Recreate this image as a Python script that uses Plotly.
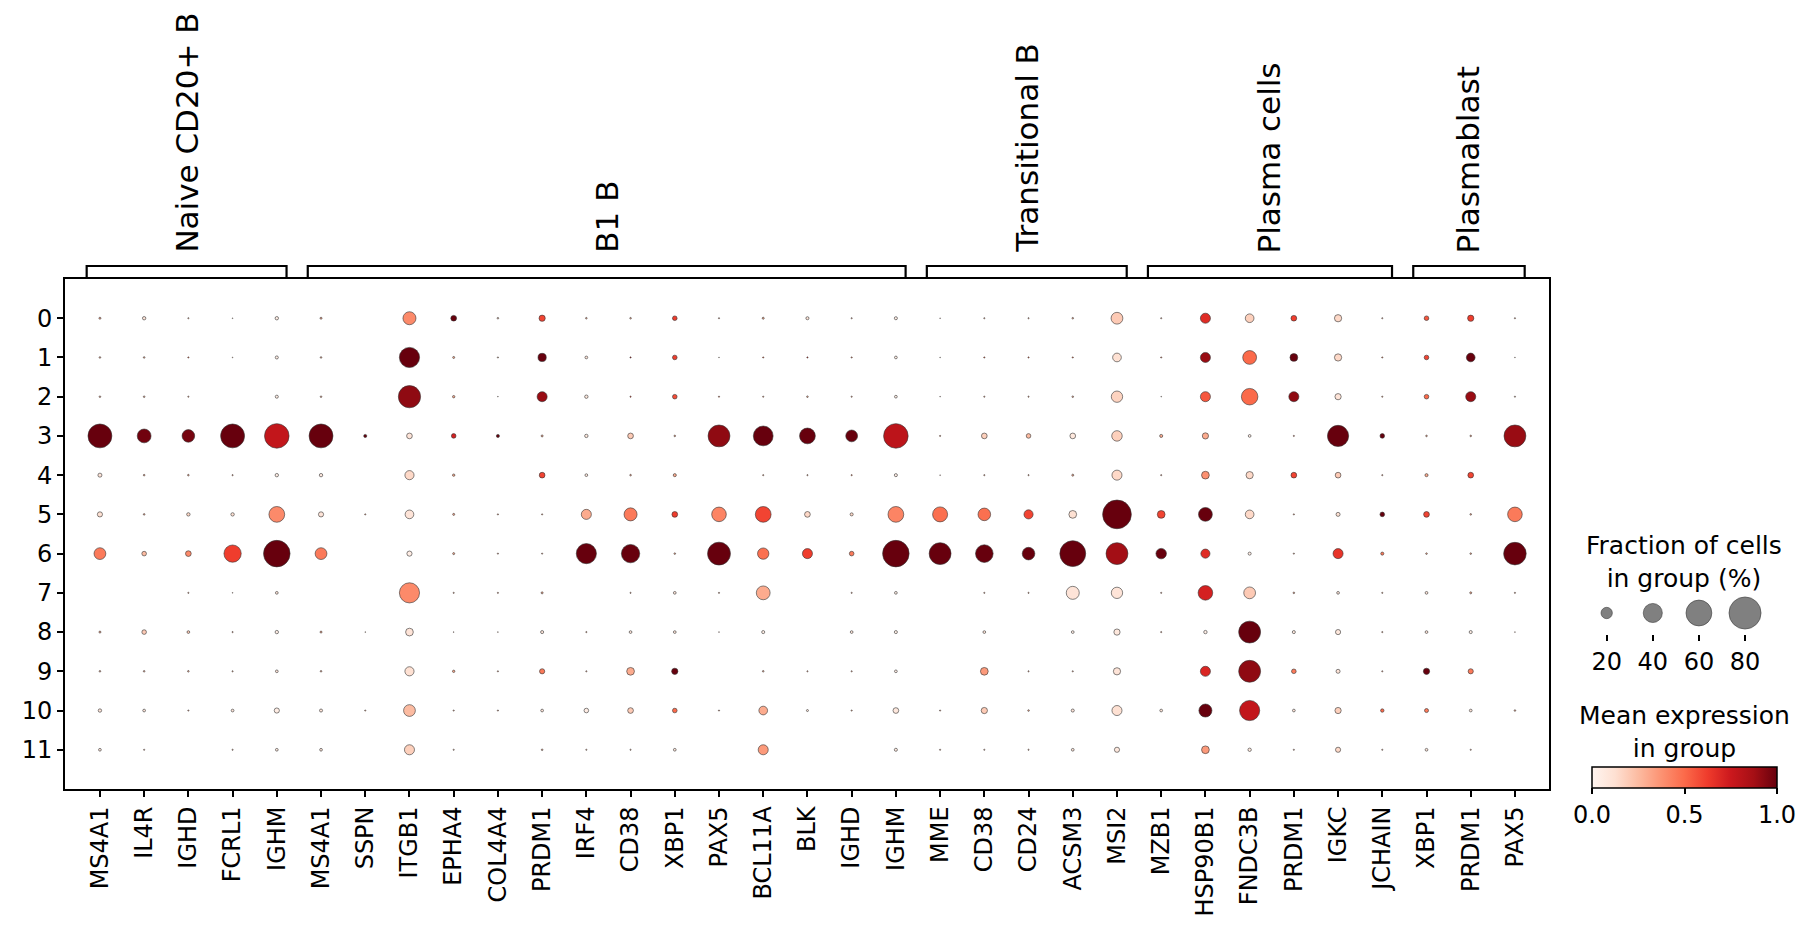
import plotly.graph_objects as go

clusters = [str(i) for i in range(12)]
genes = ["MS4A1", "IL4R", "IGHD", "FCRL1", "IGHM",
         "MS4A1", "SSPN", "ITGB1", "EPHA4", "COL4A4", "PRDM1", "IRF4", "CD38", "XBP1",
         "PAX5", "BCL11A", "BLK", "IGHD", "IGHM",
         "MME", "CD38", "CD24", "ACSM3", "MSI2",
         "MZB1", "HSP90B1", "FNDC3B", "PRDM1", "IGKC", "JCHAIN",
         "XBP1", "PRDM1", "PAX5"]
group_names = ["Naive CD20+ B", "B1 B", "Transitional B", "Plasma cells", "Plasmablast"]
group_sizes = [5, 14, 5, 6, 3]

# fraction of cells expressing (%) : rows = clusters 0..11, columns = genes
fraction_pct = [
    [2, 4, 1, 0.5, 4, 2, 0, 24, 8, 1.5, 9, 1.5, 1.5, 6, 1, 2, 3.5, 1, 3.5, 0.5, 1, 1, 1.5, 21, 1, 17, 14, 8, 11, 1, 6, 9, 1],
    [1.5, 1.5, 1, 0.5, 3.5, 1.5, 0, 43, 2, 1, 13, 3, 1, 6, 0.5, 1, 1, 1, 3, 0.5, 1, 1, 1, 14, 1, 17, 26, 12, 11, 1, 6, 14, 0.5],
    [1.5, 1.5, 1, 0, 3.5, 1.5, 0, 49, 2.5, 0.5, 17, 4, 1, 6, 1, 1, 1.5, 1, 3, 0.5, 1, 1, 1.5, 20, 0.5, 17, 33, 17, 9, 1, 6, 17, 1],
    [54, 26, 23, 54, 56, 54, 3.5, 8, 6, 3.5, 2, 4, 8, 1.5, 48, 42, 31, 21, 56, 1, 8, 6, 8, 18, 3.5, 9, 3, 1, 46, 6, 1.5, 1.5, 48],
    [5, 1.5, 1.5, 1, 4, 4, 0, 15, 2.5, 0, 8, 3, 1.5, 3.5, 0, 1, 1, 1, 3.5, 0.5, 1, 1, 2, 17, 1, 12, 11, 8, 8, 1, 3.5, 8, 0],
    [7, 1.5, 4, 4, 31, 7, 1, 14, 2, 1, 1, 17, 24, 8, 28, 31, 8, 3.5, 31, 29, 23, 15, 12, 69, 12, 26, 14, 1, 5, 6, 8, 1.5, 28],
    [21, 6, 8, 35, 62, 21, 0, 7, 2, 1, 1, 43, 38, 1.5, 51, 20, 17, 6, 62, 48, 36, 23, 60, 48, 18, 15, 3.5, 1, 17, 3.5, 1.5, 1.5, 50],
    [0, 0, 1, 0.5, 3, 0, 0, 43, 1, 1, 2, 0, 1, 3, 1, 26, 0, 1, 3, 0, 1, 1, 24, 20, 1, 28, 21, 1.5, 3, 1, 3, 2, 1],
    [2, 6, 3, 1, 4, 2, 0.5, 12, 0.5, 0.5, 3.5, 1, 3, 3, 0.5, 3.5, 0, 3, 3.5, 0, 3, 0, 3, 9, 1, 4, 48, 3.5, 7, 1, 3, 3.5, 0.5],
    [1.5, 1.5, 1.5, 1, 3, 1.5, 0, 15, 2.5, 1, 7, 1, 12, 9, 0, 1.5, 1, 1, 3, 0, 12, 1, 1, 11, 0, 17, 48, 6, 5, 1, 9, 7, 0],
    [4, 3, 1, 3, 7, 3.5, 1, 21, 1, 1, 3, 6, 8, 6, 1, 14, 2, 1, 8, 1, 9, 1.5, 3.5, 17, 3, 24, 43, 3, 9, 4, 5, 3, 1.5],
    [3, 1, 0, 1, 3, 3, 0, 17, 1, 0, 1.5, 1, 1, 3, 0, 17, 0, 0, 3.5, 1, 1, 1, 3, 7, 0, 12, 4, 1, 7, 1, 3, 1, 0],
]

# mean expression in group (scaled 0..1)
mean_expr = [
    [0.3, 0.1, 0.3, 0.2, 0.05, 0.3, 0, 0.4, 1.0, 0.2, 0.6, 0.3, 0.3, 0.62, 0.3, 0.3, 0.1, 0.3, 0.05, 0.2, 0.3, 0.3, 0.3, 0.2, 0.3, 0.68, 0.18, 0.62, 0.15, 0.3, 0.55, 0.62, 0.3],
    [0.3, 0.3, 0.5, 0.3, 0.05, 0.3, 0, 1.0, 0.3, 0.2, 1.0, 0.1, 0.8, 0.62, 0.2, 0.5, 0.7, 0.4, 0.05, 0.2, 0.5, 0.5, 0.5, 0.12, 0.4, 0.9, 0.5, 1.0, 0.15, 0.4, 0.6, 1.0, 0.2],
    [0.3, 0.3, 0.3, 0, 0.05, 0.3, 0, 0.92, 0.3, 0.2, 0.9, 0.08, 0.6, 0.58, 0.4, 0.3, 0.3, 0.3, 0.05, 0.2, 0.3, 0.3, 0.3, 0.17, 0.2, 0.55, 0.5, 0.92, 0.1, 0.3, 0.5, 0.9, 0.2],
    [1.0, 0.98, 0.97, 1.0, 0.78, 1.0, 1.0, 0.1, 0.72, 1.0, 0.3, 0.08, 0.2, 0.3, 0.92, 1.0, 1.0, 1.0, 0.8, 0.3, 0.18, 0.25, 0.08, 0.18, 0.3, 0.3, 0.05, 0.3, 1.0, 1.0, 0.3, 0.3, 0.9],
    [0.1, 0.3, 0.3, 0.3, 0.05, 0.08, 0, 0.15, 0.3, 0, 0.6, 0.08, 0.3, 0.3, 0, 0.3, 0.3, 0.4, 0.05, 0.3, 0.3, 0.3, 0.3, 0.15, 0.3, 0.38, 0.15, 0.6, 0.2, 0.3, 0.3, 0.6, 0],
    [0.12, 0.3, 0.15, 0.12, 0.4, 0.1, 0.3, 0.1, 0.3, 0.3, 0.3, 0.3, 0.45, 0.62, 0.42, 0.6, 0.15, 0.15, 0.42, 0.48, 0.48, 0.6, 0.12, 1.0, 0.6, 1.0, 0.15, 0.3, 0.12, 1.0, 0.6, 0.3, 0.45],
    [0.45, 0.25, 0.4, 0.62, 1.0, 0.45, 0, 0.05, 0.3, 0.3, 0.3, 1.0, 1.0, 0.3, 1.0, 0.48, 0.62, 0.45, 1.0, 1.0, 1.0, 1.0, 1.0, 0.88, 1.0, 0.68, 0.05, 0.3, 0.65, 0.45, 0.3, 0.3, 1.0],
    [0, 0, 0.3, 0.3, 0.1, 0, 0, 0.4, 0.3, 0.3, 0.3, 0, 0.3, 0.1, 0.3, 0.3, 0, 0.3, 0.05, 0, 0.3, 0.3, 0.1, 0.1, 0.3, 0.72, 0.2, 0.3, 0.1, 0.3, 0.1, 0.3, 0.3],
    [0.3, 0.2, 0.2, 0.3, 0.05, 0.3, 0.3, 0.1, 0.3, 0.3, 0.1, 0.3, 0.1, 0.1, 0.3, 0.05, 0, 0.1, 0.05, 0, 0.1, 0, 0.05, 0.08, 0.3, 0.05, 1.0, 0.08, 0.08, 0.3, 0.1, 0.05, 0.3],
    [0.3, 0.3, 0.3, 0.3, 0.1, 0.3, 0, 0.12, 0.3, 0.3, 0.45, 0.3, 0.3, 1.0, 0, 0.3, 0.3, 0.3, 0.05, 0, 0.35, 0.3, 0.3, 0.1, 0, 0.7, 0.92, 0.45, 0.1, 0.3, 1.0, 0.45, 0],
    [0.1, 0.1, 0.3, 0.1, 0.05, 0.1, 0.3, 0.25, 0.3, 0.3, 0.1, 0.05, 0.2, 0.5, 0.3, 0.3, 0.1, 0.3, 0.08, 0.3, 0.2, 0.3, 0.1, 0.12, 0.1, 1.0, 0.78, 0.1, 0.18, 0.5, 0.45, 0.1, 0.3],
    [0.1, 0.3, 0, 0.3, 0.08, 0.1, 0, 0.18, 0.3, 0, 0.3, 0.3, 0.3, 0.1, 0, 0.35, 0, 0, 0.08, 0.3, 0.3, 0.3, 0.1, 0.08, 0, 0.35, 0.08, 0.3, 0.15, 0.3, 0.1, 0.3, 0],
]

legend_fractions = [20, 40, 60, 80]
colorbar_ticks = [0.0, 0.5, 1.0]

REDS = ["#fff5f0", "#fee0d2", "#fcbba1", "#fc9272", "#fb6a4a",
        "#ef3b2c", "#cb181d", "#a50f15", "#67000d"]
colorscale = [[i / (len(REDS) - 1), c] for i, c in enumerate(REDS)]
FONT = "DejaVu Sans"


def dot_diameter(frac):
    return 1.2 * frac ** 0.75


xs, ys, sizes, colors = [], [], [], []
for r, row in enumerate(fraction_pct):
    for c, f in enumerate(row):
        if f > 0:
            xs.append(c)
            ys.append(r)
            sizes.append(dot_diameter(f))
            colors.append(mean_expr[r][c])

# page geometry (the html body adds an 8px offset)
OFF = 8
W, H = 1812 - OFF, 940 - OFF
L, R, T, B = 65 - OFF, 20, 279 - OFF, 940 - 789
PW = W - L - R
PH = H - T - B


def px(xp):
    return (xp - OFF - L) / PW


def py(yp):
    return (H - B - (yp - OFF)) / PH


fig = go.Figure()
fig.add_trace(go.Scatter(
    x=xs, y=ys, mode="markers",
    marker=dict(size=sizes, sizemode="diameter", color=colors, opacity=1,
                cmin=0, cmax=1, colorscale=colorscale,
                line=dict(color="rgba(50,50,50,1)", width=0.6),
                colorbar=dict(orientation="h", thickness=21, len=185, lenmode="pixels",
                              x=px(1684.5), xanchor="center", xpad=0,
                              y=py(767), yanchor="top", ypad=0,
                              tickvals=colorbar_ticks,
                              ticktext=[f"{t:.1f}" for t in colorbar_ticks],
                              ticks="outside", ticklen=6, tickwidth=1.5, tickcolor="black",
                              tickfont=dict(family=FONT, size=24, color="black"),
                              outlinewidth=1.5, outlinecolor="black")),
    xaxis="x", yaxis="y", showlegend=False, hoverinfo="skip"))

# size legend
fig.add_trace(go.Scatter(
    x=legend_fractions, y=[0] * len(legend_fractions), mode="markers",
    marker=dict(size=[dot_diameter(v) for v in legend_fractions], sizemode="diameter",
                color="#808080", opacity=1, line=dict(color="rgba(60,60,60,1)", width=0.6)),
    xaxis="x3", yaxis="y3", showlegend=False, hoverinfo="skip"))

axis_font = dict(family=FONT, size=24, color="black")
fig.update_layout(
    width=W, height=H,
    margin=dict(l=L, r=R, t=T, b=B),
    paper_bgcolor="white", plot_bgcolor="white",
    font=dict(family=FONT, color="black"),
    xaxis=dict(domain=[0, px(1549)], range=[-0.79, len(genes) - 0.23],
               tickmode="array", tickvals=list(range(len(genes))), ticktext=genes,
               tickangle=-90, ticks="outside", ticklen=6, tickwidth=1.5, tickcolor="black",
               tickfont=axis_font, showline=True, linecolor="black", linewidth=1.7,
               mirror=True, showgrid=False, zeroline=False, anchor="y"),
    yaxis=dict(domain=[0, 1], range=[len(clusters), -1],
               tickmode="array", tickvals=list(range(len(clusters))), ticktext=clusters,
               ticks="outside", ticklen=6, tickwidth=1.5, tickcolor="black",
               tickfont=axis_font, showline=True, linecolor="black", linewidth=1.7,
               mirror=True, showgrid=False, zeroline=False, anchor="x"),
    xaxis3=dict(domain=[px(1572.1), px(1779.6)], range=[5, 95],
                tickmode="array", tickvals=legend_fractions,
                ticktext=[str(v) for v in legend_fractions],
                ticks="outside", ticklen=6, tickwidth=1.5, tickcolor="black",
                tickfont=axis_font, showline=False, showgrid=False, zeroline=False,
                anchor="y3"),
    yaxis3=dict(domain=[py(634), py(592)], range=[-1, 1],
                visible=False, anchor="x3"),
)

# group brackets and labels
y_top = py(266)
y_low = py(278.5)
start = 0
for name, n in zip(group_names, group_sizes):
    end = start + n - 1
    x0, x1 = start - 0.3, end + 0.22
    fig.add_shape(type="path", xref="x", yref="paper",
                  path=f"M {x0},{y_low} L {x0},{y_top} L {x1},{y_top} L {x1},{y_low}",
                  line=dict(color="black", width=2.2))
    fig.add_annotation(x=(x0 + x1) / 2, y=py(255), xref="x", yref="paper",
                       text=name, textangle=-90, showarrow=False,
                       xanchor="center", yanchor="bottom",
                       font=dict(family=FONT, size=31, color="black"))
    start += n

# thin divider in the colour bar at 0.5
fig.add_shape(type="line", xref="paper", yref="paper",
              x0=px(1684.5), x1=px(1684.5), y0=py(768.5), y1=py(788),
              line=dict(color="#bbbbbb", width=1.5))

# legend titles
fig.add_annotation(x=px(1684), y=py(562), xref="paper", yref="paper",
                   text="Fraction of cells<br>in group (%)", showarrow=False,
                   xanchor="center", yanchor="middle",
                   font=dict(family=FONT, size=25, color="black"))
fig.add_annotation(x=px(1684), y=py(731.5), xref="paper", yref="paper",
                   text="Mean expression<br>in group", showarrow=False,
                   xanchor="center", yanchor="middle",
                   font=dict(family=FONT, size=25, color="black"))

fig.write_html("out.html")
